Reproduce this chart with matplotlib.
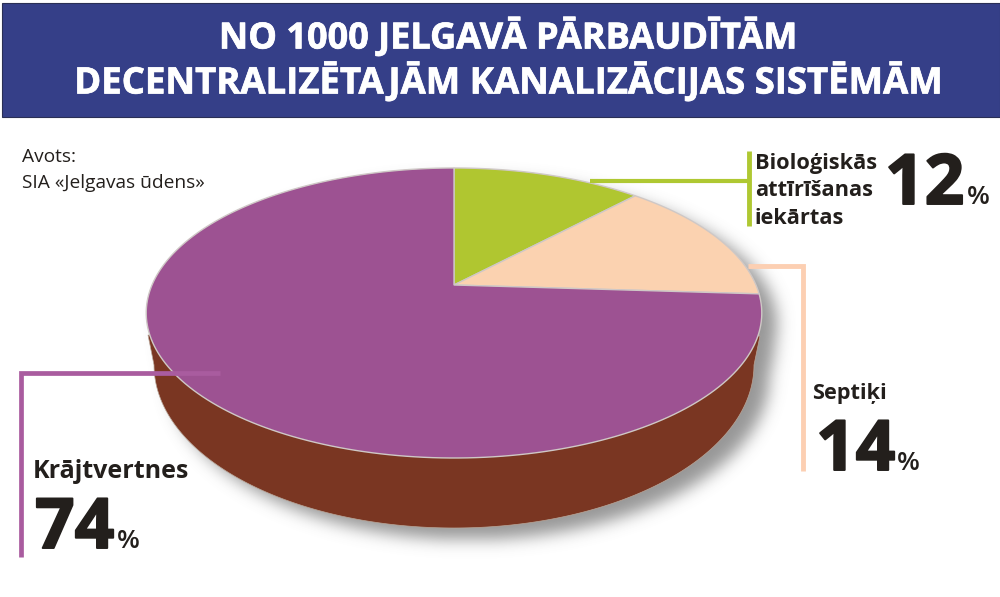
import numpy as np
import matplotlib
matplotlib.use("Agg")
import matplotlib.pyplot as plt
import matplotlib.patheffects as pe
from matplotlib.path import Path
from matplotlib.patches import Polygon, Rectangle

plt.rcParams['font.family'] = ['Open Sans', 'DejaVu Sans']

title_lines = ["NO 1000 JELGAVĀ PĀRBAUDĪTĀM", "DECENTRALIZĒTAJĀM KANALIZĀCIJAS SISTĒMĀM"]
source_lines = ["Avots:", "SIA «Jelgavas ūdens»"]
categories = ["Bioloģiskās\nattīrīšanas\niekārtas", "Septiķi", "Krājtvertnes"]
values = [12, 14, 74]
colors = ["#b0c630", "#fbd2b0", "#9d5292"]
line_colors = ["#afc832", "#fccfb2", "#a95c9f"]
INK = "#231f1c"
SIDE = "#7a3622"


def persp(u, v):
    # tilted disc: unit circle -> picture pixels
    den = 0.193 * v + 1
    return 454 + 302 * u / den, (285 - 84.6 * v) / den


def blur(img, sigma):
    # separable gaussian, numpy only
    r = int(3 * sigma)
    k = np.exp(-0.5 * (np.arange(-r, r + 1) / sigma) ** 2)
    k /= k.sum()
    img = np.apply_along_axis(lambda a: np.convolve(a, k, mode='same'), 0, img)
    return np.apply_along_axis(lambda a: np.convolve(a, k, mode='same'), 1, img)


fig = plt.figure(figsize=(10, 5.97), dpi=100)
ax = fig.add_axes([0, 0, 1, 1])
wedges, _ = ax.pie(values, colors=colors, startangle=90, counterclock=False)

t = np.radians(np.linspace(0, 360, 361))
top_x, top_y = persp(np.cos(t), np.sin(t))

# side of the disc: lower ellipse plus the bit up to the rim
tb = np.radians(np.linspace(180, 360, 181))
body = np.vstack([[[148, 335]],
                  np.column_stack([454 + 300 * np.cos(tb), 365 - 163 * np.sin(tb)]),
                  [[760, 336]]])

# soft shadow
xx, yy = np.meshgrid(np.arange(1000), np.arange(597))
grid = np.column_stack([xx.ravel() - 15, yy.ravel() - 11])
mask = Path(np.column_stack([top_x, top_y])).contains_points(grid) | Path(body).contains_points(grid)
mask = blur(mask.reshape(597, 1000).astype(float), 8)
rgba = np.zeros((597, 1000, 4))
rgba[..., :3] = 0.4
rgba[..., 3] = mask * 0.68
ax.imshow(rgba, extent=(0, 1000, 597, 0), interpolation='bilinear', zorder=1)

ax.set_aspect('auto')
ax.set_xlim(0, 1000)
ax.set_ylim(597, 0)
ax.axis('off')

ax.add_patch(Polygon(body, closed=True, facecolor=SIDE, edgecolor='#b9a79a', linewidth=0.5, zorder=2))

for wedge in wedges:
    th = np.radians(np.linspace(wedge.theta1, wedge.theta2, 200))
    x, y = persp(np.cos(th), np.sin(th))
    x0, y0 = persp(0, 0)
    pts = np.column_stack([np.r_[x0, x], np.r_[y0, y]])
    ax.add_patch(Polygon(pts, closed=True, facecolor=wedge.get_facecolor(), edgecolor='#cfc8c6', linewidth=1.0, zorder=3))
    wedge.remove()

# leader lines
ax.plot([590, 749], [181, 181], color=line_colors[0], lw=3.0, solid_capstyle='butt', zorder=4)
ax.plot([749, 749], [150.5, 226], color=line_colors[0], lw=3.5, solid_capstyle='butt', zorder=4)
ax.plot([748, 802.5, 802.5], [266, 266, 471], color=line_colors[1], lw=3.5, solid_joinstyle='miter', solid_capstyle='butt', zorder=1.5)
ax.plot([220, 20.5, 20.5], [373, 373, 556.5], color=line_colors[2], lw=3.4, solid_joinstyle='miter', solid_capstyle='butt', zorder=4)

# header band
ax.add_patch(Rectangle((2, 3), 998, 114, facecolor="#353f88", edgecolor="#2a2f55", linewidth=0.8, zorder=5))
heavy_white = [pe.withStroke(linewidth=0.5, foreground='white')]
ax.text(508, 48.5, title_lines[0], color='white', fontsize=26, fontweight='bold', ha='center', va='baseline', zorder=6, path_effects=heavy_white)
ax.text(508, 93.5, title_lines[1], color='white', fontsize=26.3, fontweight='bold', ha='center', va='baseline', zorder=6, path_effects=heavy_white)

ax.text(22, 157, source_lines[0], color=INK, fontsize=13.8, ha='left', va='center')
ax.text(22, 183, source_lines[1], color=INK, fontsize=13.8, ha='left', va='center')

# labels
ax.text(755, 191, categories[0], color=INK, fontsize=15.7, fontweight='bold', ha='left', va='center', linespacing=1.4, zorder=6)
ax.text(812, 393, categories[1], color=INK, fontsize=15.7, fontweight='bold', ha='left', va='center', zorder=6)
ax.text(33, 472, categories[2], color=INK, fontsize=18, fontweight='bold', ha='left', va='center', zorder=6)

heavy_ink = [pe.withStroke(linewidth=1.4, foreground=INK)]


def big_pct(x, y, val):
    txt = ax.text(x, y, str(val), color=INK, fontsize=50, fontweight='bold', ha='left', va='baseline', zorder=6, path_effects=heavy_ink)
    fig.canvas.draw()
    bb = txt.get_window_extent()
    ax.text(bb.x1 + 2, y, "%", color=INK, fontsize=19, fontweight='semibold', ha='left', va='baseline', zorder=6)


big_pct(885, 204, values[0])
big_pct(816, 470, values[1])
big_pct(35, 548, values[2])

fig.savefig("out.png", dpi=100)
